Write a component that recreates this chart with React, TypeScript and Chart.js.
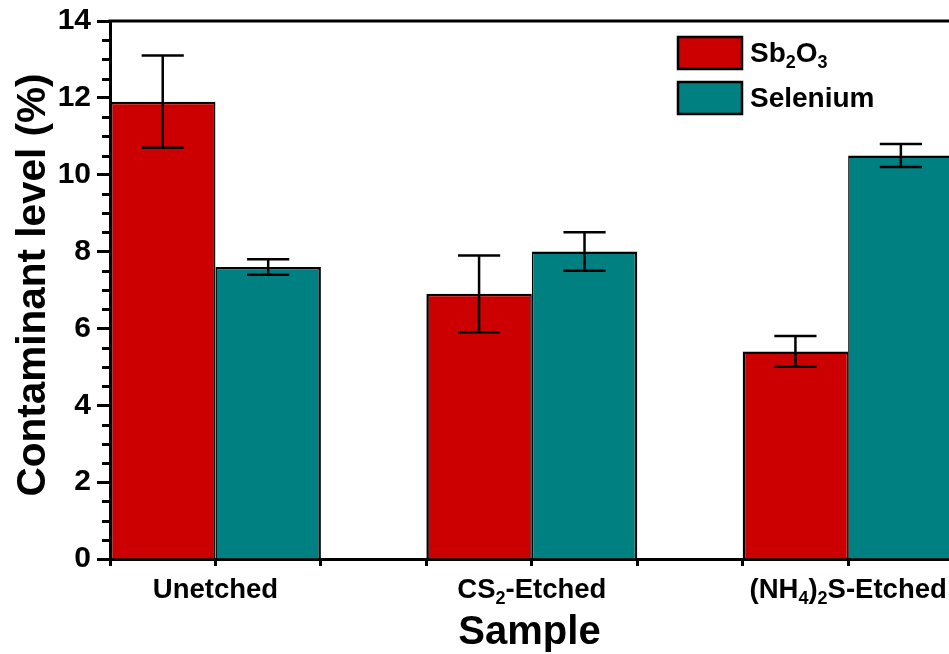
import React, { useEffect, useRef } from 'react';
import { Chart, registerables } from 'chart.js';

Chart.register(...registerables);

// ---- data ----
const categories = ['Unetched', 'CS₂-Etched', '(NH₄)₂S-Etched'];
const seriesNames = ['Sb₂O₃', 'Selenium'];
const sb2o3Values = [11.9, 6.9, 5.4];
const sb2o3Errors = [1.2, 1.0, 0.4];
const seleniumValues = [7.6, 8.0, 10.5];
const seleniumErrors = [0.2, 0.5, 0.3];
const yMin = 0;
const yMax = 14;
const yMajorStep = 2;
const yMinorStep = 0.5;
const xTitle = 'Sample';
const yTitle = 'Contaminant level (%)';

const seriesColors = ['#CC0000', '#008080'];
const errorSets = [sb2o3Errors, seleniumErrors];

const FAMILY = '"Liberation Sans", Arial, Helvetica, sans-serif';

const SUB_MAP: Record<string, string> = {
  '₀': '0', '₁': '1', '₂': '2', '₃': '3', '₄': '4',
  '₅': '5', '₆': '6', '₇': '7', '₈': '8', '₉': '9',
};

type Seg = { t: string; sub: boolean };

function toSegs(text: string): Seg[] {
  const segs: Seg[] = [];
  for (const ch of text) {
    const sub = ch in SUB_MAP;
    const c = sub ? SUB_MAP[ch] : ch;
    const last = segs[segs.length - 1];
    if (last && last.sub === sub) last.t += c;
    else segs.push({ t: c, sub });
  }
  return segs;
}

function richWidth(ctx: CanvasRenderingContext2D, text: string, size: number) {
  let w = 0;
  for (const s of toSegs(text)) {
    ctx.font = `bold ${s.sub ? Math.round(size * 0.66) : size}px ${FAMILY}`;
    w += ctx.measureText(s.t).width;
  }
  return w;
}

// draws text with subscripts; y = vertical centre of capitals
function drawRich(
  ctx: CanvasRenderingContext2D,
  text: string,
  x: number,
  yCenter: number,
  size: number,
  align: 'left' | 'center'
) {
  const w = richWidth(ctx, text, size);
  let cx = align === 'center' ? x - w / 2 : x;
  const baseline = yCenter + size * 0.358;
  ctx.textAlign = 'left';
  ctx.textBaseline = 'alphabetic';
  ctx.fillStyle = '#000';
  for (const s of toSegs(text)) {
    const fs = s.sub ? Math.round(size * 0.66) : size;
    ctx.font = `bold ${fs}px ${FAMILY}`;
    ctx.fillText(s.t, cx, s.sub ? baseline + size * 0.22 : baseline);
    cx += ctx.measureText(s.t).width;
  }
}

const decorPlugin = {
  id: 'decor',
  afterDatasetsDraw(chart: any) {
    const ctx: CanvasRenderingContext2D = chart.ctx;
    const ys = chart.scales.y;
    const xs = chart.scales.x;
    const area = chart.chartArea;
    ctx.save();
    // error bars
    ctx.strokeStyle = '#000';
    ctx.lineWidth = 2.5;
    chart.data.datasets.forEach((ds: any, di: number) => {
      const meta = chart.getDatasetMeta(di);
      meta.data.forEach((el: any, i: number) => {
        const v = ds.data[i].y;
        const e = errorSets[di][i];
        const top = ys.getPixelForValue(v + e);
        const bot = ys.getPixelForValue(v - e);
        const half = el.width * 0.2;
        ctx.beginPath();
        ctx.moveTo(el.x, top);
        ctx.lineTo(el.x, bot);
        ctx.moveTo(el.x - half, top);
        ctx.lineTo(el.x + half, top);
        ctx.moveTo(el.x - half, bot);
        ctx.lineTo(el.x + half, bot);
        ctx.stroke();
      });
    });
    // top frame line
    ctx.lineWidth = 3;
    ctx.beginPath();
    ctx.moveTo(area.left - 1.5, area.top);
    ctx.lineTo(area.right, area.top);
    ctx.stroke();
    // minor y ticks
    ctx.lineWidth = 3;
    for (let v = yMin; v <= yMax + 1e-9; v += yMinorStep) {
      if (Math.abs(v / yMajorStep - Math.round(v / yMajorStep)) < 1e-6) continue;
      const py = Math.round(ys.getPixelForValue(v)) + 0.5;
      ctx.beginPath();
      ctx.moveTo(area.left - 8, py);
      ctx.lineTo(area.left, py);
      ctx.stroke();
    }
    // x category labels
    categories.forEach((c, i) => {
      drawRich(ctx, c, xs.getPixelForValue(i), area.bottom + 29, 27.5, 'center');
    });
    // axis titles
    drawRich(ctx, xTitle, (area.left + 949) / 2, area.bottom + 71, 40, 'center');
    ctx.save();
    ctx.translate(31, (area.top + area.bottom) / 2 - 5);
    ctx.rotate(-Math.PI / 2);
    drawRich(ctx, yTitle, 0, 0, 40.5, 'center');
    ctx.restore();
    // legend
    const lx = area.left + 568;
    const ly = area.top + 16;
    seriesNames.forEach((name, i) => {
      const by = ly + i * 45;
      ctx.fillStyle = seriesColors[i];
      ctx.strokeStyle = '#000';
      ctx.lineWidth = 2.5;
      ctx.beginPath();
      ctx.rect(lx, by, 64, 32);
      ctx.fill();
      ctx.stroke();
      drawRich(ctx, name, lx + 72, by + 15, 28, 'left');
    });
    ctx.restore();
  },
};

export default function App() {
  const ref = useRef<HTMLCanvasElement>(null);
  useEffect(() => {
    const canvas = ref.current!;
    const n = categories.length;
    const xTickValues: number[] = [];
    for (let k = -1; k <= 3 * n - 2; k++) xTickValues.push(k / 3);
    const tickFont = { family: FAMILY, weight: 'bold' as const, size: 30, lineHeight: 1 };
    const chart = new Chart(canvas, {
      type: 'bar',
      data: {
        datasets: [
          {
            label: seriesNames[0],
            data: sb2o3Values.map((v, i) => ({ x: i, y: v })),
            backgroundColor: seriesColors[0],
            borderColor: '#000',
            borderWidth: { top: 2.5, left: 2.5, right: 1.5, bottom: 0 },
          },
          {
            label: seriesNames[1],
            data: seleniumValues.map((v, i) => ({ x: i, y: v })),
            backgroundColor: seriesColors[1],
            borderColor: '#000',
            borderWidth: { top: 2.5, left: 1.5, right: 2.5, bottom: 0 },
          },
        ],
      },
      options: {
        responsive: false,
        animation: false,
        devicePixelRatio: 1,
        layout: { padding: { top: 21, right: 0, bottom: 0, left: 0 } },
        plugins: { legend: { display: false }, tooltip: { enabled: false } },
        datasets: { bar: { categoryPercentage: 2, barPercentage: 1 } },
        scales: {
          x: {
            type: 'linear',
            min: -1 / 3,
            max: 2.48,
            offset: false,
            afterBuildTicks: (s: any) => {
              s.ticks = xTickValues.map((v) => ({ value: v }));
            },
            afterFit: (s: any) => {
              s.height = 95;
            },
            ticks: { callback: () => '', autoSkip: false, maxRotation: 0 },
            grid: {
              display: true,
              offset: false,
              drawOnChartArea: false,
              drawTicks: true,
              tickLength: 7,
              tickWidth: 3,
              tickColor: '#000',
            },
            border: { display: true, width: 3, color: '#000' },
          },
          y: {
            min: yMin,
            max: yMax,
            afterFit: (s: any) => {
              s.width = 110;
            },
            ticks: { stepSize: yMajorStep, font: tickFont, color: '#000', padding: 6 },
            grid: {
              display: true,
              drawOnChartArea: false,
              drawTicks: true,
              tickLength: 13,
              tickWidth: 3,
              tickColor: '#000',
            },
            border: { display: true, width: 3, color: '#000' },
          },
        },
      } as any,
      plugins: [decorPlugin],
    });
    return () => chart.destroy();
  }, []);

  return (
    <div
      style={{
        position: 'absolute',
        left: 0,
        top: 0,
        width: 949,
        height: 654,
        overflow: 'hidden',
        background: '#fff',
      }}
    >
      <canvas ref={ref} width={1000} height={654} style={{ width: 1000, height: 654, display: 'block' }} />
    </div>
  );
}
